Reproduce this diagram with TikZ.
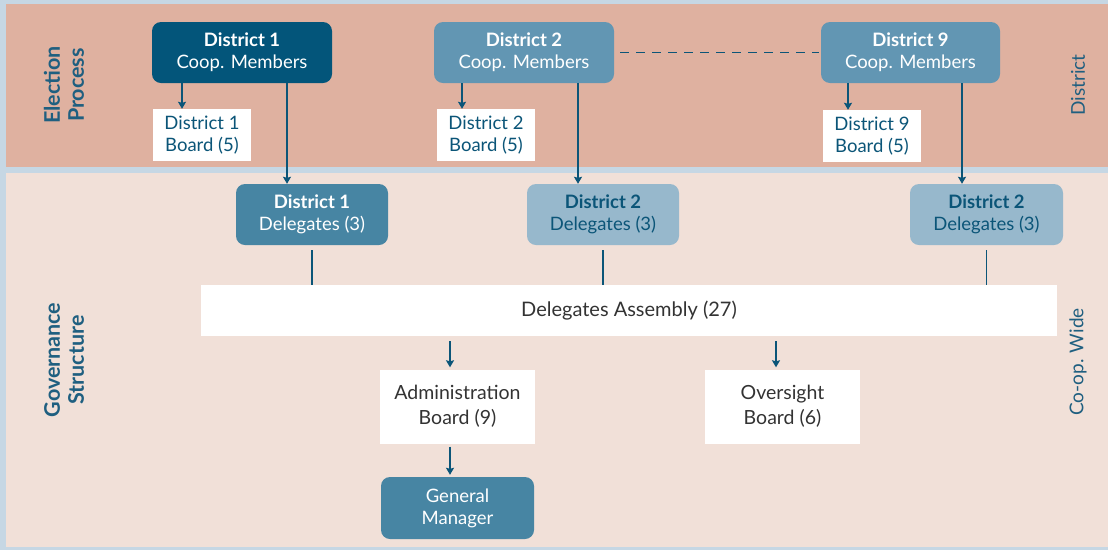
\documentclass[tikz,border=0pt]{standalone}
\usepackage{fontspec}
\setmainfont{Lato}
\usetikzlibrary{arrows.meta,calc}
\definecolor{frame}{HTML}{C6D7E4}
\definecolor{topband}{HTML}{DFB1A0}
\definecolor{botband}{HTML}{F1E0D8}
\definecolor{navy}{HTML}{03557A}
\definecolor{midblue}{HTML}{4785A3}
\definecolor{coopblue}{HTML}{6296B3}
\definecolor{lightblue}{HTML}{97B8CC}
\definecolor{txtblue}{HTML}{0B5578}
\definecolor{sideblue}{HTML}{1F5F80}
\definecolor{greytxt}{HTML}{333333}
\tikzset{
  base/.style={align=center, inner sep=0pt, font=\fontsize{18.5}{22}\selectfont},
  rbox/.style={base, rounded corners=9pt, text=white},
  wbox/.style={base, fill=white},
  arr/.style={draw=txtblue, line width=1.8pt, -{Stealth[length=7pt,width=8pt,inset=1pt]}},
  conn/.style={draw=txtblue, line width=1.8pt},
  side/.style={font=\fontsize{21.5}{24}\selectfont\bfseries, text=sideblue, align=center, rotate=90},
  sidelight/.style={font=\fontsize{19}{22}\selectfont, text=sideblue, align=center, rotate=90}
}
\begin{document}
\begin{tikzpicture}[x=1pt,y=-1pt]
\useasboundingbox (0,0) rectangle (1108,550);
\fill[frame] (0,0) rectangle (1108,550);
\fill[topband] (6,4) rectangle (1108,167);
\fill[botband] (6,173) rectangle (1108,547);

% side labels
\node[side] (ep) at (64,85) {Election\\Process};
\node[side] (gs) at (64,360) {Governance\\Structure};
\node[sidelight] (dl) at (1078,85) {District};
\node[sidelight] (cw) at (1078,362) {Co-op. Wide};

% coop members
\node[rbox, fill=navy, minimum width=180pt, minimum height=61pt] (c1) at (242,52.5) {{\bfseries District 1}\\Coop. Members};
\node[rbox, fill=coopblue, minimum width=180pt, minimum height=61pt] (c2) at (524,52.5) {{\bfseries District 2}\\Coop. Members};
\node[rbox, fill=coopblue, minimum width=179pt, minimum height=61pt] (c9) at (910.5,52.5) {{\bfseries District 9}\\Coop. Members};

% district boards
\node[wbox, text=txtblue, minimum width=98pt, minimum height=52pt] (b1) at (202,135) {District 1\\Board (5)};
\node[wbox, text=txtblue, minimum width=98pt, minimum height=52pt] (b2) at (486,135) {District 2\\Board (5)};
\node[wbox, text=txtblue, minimum width=98pt, minimum height=52pt] (b9) at (872,136) {District 9\\Board (5)};

% delegates
\node[rbox, fill=midblue, minimum width=152pt, minimum height=61pt] (d1) at (312,214.5) {{\bfseries District 1}\\Delegates (3)};
\node[rbox, fill=lightblue, text=txtblue, minimum width=152pt, minimum height=61pt] (d2) at (603,214.5) {{\bfseries District 2}\\Delegates (3)};
\node[rbox, fill=lightblue, text=txtblue, minimum width=153pt, minimum height=61pt] (d9) at (986.5,214.5) {{\bfseries District 2}\\Delegates (3)};

% assembly and boards
\node[wbox, text=greytxt, minimum width=856pt, minimum height=51pt, font=\fontsize{20}{24}\selectfont] (asm) at (629,310.5) {Delegates Assembly (27)};
\node[wbox, text=greytxt, minimum width=155pt, minimum height=74pt, font=\fontsize{19.5}{25}\selectfont] (adm) at (457.5,406.5) {Administration\\Board (9)};
\node[wbox, text=greytxt, minimum width=155pt, minimum height=74pt, font=\fontsize{19.5}{25}\selectfont] (ovs) at (782.5,406.5) {Oversight\\Board (6)};
\node[rbox, fill=midblue, minimum width=153pt, minimum height=62pt] (gm) at (457.5,508) {General\\Manager};

% connectors
\draw[conn, dashed, dash pattern=on 9pt off 7pt, shorten <=6pt, shorten >=2pt] (c2.east) -- (c9.west);
\draw[arr] ([xshift=-60pt]c1.south) -- ([xshift=-60pt]c1.south |- b1.north);
\draw[arr] ([xshift=-62pt]c2.south) -- ([xshift=-62pt]c2.south |- b2.north);
\draw[arr] ([xshift=-62.5pt]c9.south) -- ([xshift=-62.5pt]c9.south |- b9.north);
\draw[arr] ([xshift=45pt]c1.south) -- ([xshift=45pt]c1.south |- d1.north);
\draw[arr] ([xshift=54pt]c2.south) -- ([xshift=54pt]c2.south |- d2.north);
\draw[arr] ([xshift=51.5pt]c9.south) -- ([xshift=51.5pt]c9.south |- d9.north);
\draw[conn, shorten <=5pt] (d1.south) -- (d1.south |- asm.north);
\draw[conn, shorten <=5pt] (d2.south) -- (d2.south |- asm.north);
\draw[conn, shorten <=5pt] (d9.south) -- (d9.south |- asm.north);
\draw[arr, shorten <=5pt, shorten >=2pt] ([xshift=-7.5pt]adm.north |- asm.south) -- ([xshift=-7.5pt]adm.north);
\draw[arr, shorten <=5pt, shorten >=2pt] ([xshift=-6.5pt]ovs.north |- asm.south) -- ([xshift=-6.5pt]ovs.north);
\draw[arr, shorten <=3pt, shorten >=2pt] ([xshift=-7.5pt]adm.south) -- ([xshift=-7.5pt]adm.south |- gm.north);
\end{tikzpicture}
\end{document}
